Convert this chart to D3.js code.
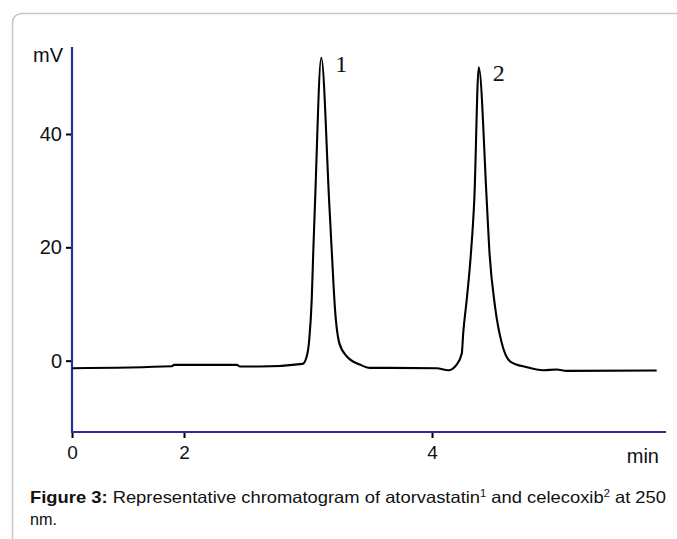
<!DOCTYPE html>
<html>
<head>
<meta charset="utf-8">
<script src="https://cdn.jsdelivr.net/npm/d3@7"></script>
<style>
  body { margin: 0; background: #fff; }
  svg { display: block; font-family: "Liberation Sans", Arial, sans-serif; }
</style>
</head>
<body>
<div id="chart"></div>
<script>
// chromatogram trace (time in min, signal in mV)
const retentionTime = [0, 1.786, 1.821, 2.427, 2.452, 2.613, 2.957, 2.990, 3.010, 3.030, 3.043, 3.056,
  3.107, 3.172, 3.191, 3.218, 3.252, 3.312, 3.419, 3.500, 3.661, 4.038, 4.131, 4.199, 4.240, 4.252,
  4.280, 4.312, 4.341, 4.377, 4.441, 4.462, 4.508, 4.562, 4.629, 4.764, 4.898, 5.006, 5.086, 5.812];
const signal = [-1.34, -0.99, -0.74, -0.74, -1.04, -1.04, -0.56, 0.78, 3.72, 10.77, 19.58, 27.5,
  53.46, 27.5, 19.58, 9.0, 3.14, 0.78, -0.69, -1.27, -1.27, -1.34, -1.69, -0.69, 1.25, 4.95,
  10.77, 18.4, 28.4, 51.77, 28.4, 19.58, 9.59, 3.14, -0.11, -1.16, -1.69, -1.57, -1.80, -1.74];

const peakTimes = [3.107, 4.377];
const peakSignals = [53.46, 51.77];
const peakLabels = ["1", "2"];

const xTicks = [0, 2, 4];
const yTicks = [0, 20, 40];

const width = 677;
const height = 539;
const margin = { top: 47, left: 72, right: 11, bottom: 107 };

const svg = d3.select("#chart")
  .append("svg")
  .attr("width", width)
  .attr("height", height);

// panel border
svg.append("rect")
  .attr("x", 12.5).attr("y", 13.5)
  .attr("width", 720).attr("height", 600)
  .attr("rx", 9)
  .attr("fill", "none")
  .attr("stroke", "#c6c6c6")
  .attr("stroke-width", 1.5);

// the original time axis is not uniform: 0-2 is squeezed
const x = d3.scaleLinear()
  .domain([0, 2, 5.887])
  .range([margin.left, 184, width - margin.right]);

const y = d3.scaleLinear()
  .domain([-12.5, 55.35])
  .range([height - margin.bottom - 0.5, margin.top]);

const axisColor = "#2e2e9a";
const x0 = margin.left;
const yBase = height - margin.bottom;

// x axis
const xAxis = svg.append("g")
  .attr("transform", `translate(0, ${yBase})`)
  .call(d3.axisBottom(x).tickValues(xTicks).tickSize(6).tickPadding(8).tickFormat(d3.format("d")));
xAxis.select(".domain").remove();
xAxis.selectAll(".tick line").attr("stroke", "#000").attr("stroke-width", 2);
xAxis.selectAll("text").style("font-size", "19px").attr("fill", "#111");

// y axis
const yAxis = svg.append("g")
  .attr("transform", `translate(${x0}, 0)`)
  .call(d3.axisLeft(y).tickValues(yTicks).tickSize(6).tickPadding(4).tickFormat(d3.format("d")));
yAxis.select(".domain").remove();
yAxis.selectAll(".tick line").attr("stroke", "#000").attr("stroke-width", 2);
yAxis.selectAll("text").style("font-size", "20px").attr("fill", "#111");

// blue axis lines
svg.append("line")
  .attr("x1", x0).attr("x2", x0)
  .attr("y1", margin.top).attr("y2", yBase + 1)
  .attr("stroke", axisColor).attr("stroke-width", 2.2);
svg.append("line")
  .attr("x1", x0).attr("x2", width - margin.right)
  .attr("y1", yBase).attr("y2", yBase)
  .attr("stroke", axisColor).attr("stroke-width", 2.2);

// unit labels
svg.append("text")
  .attr("x", x0 - 9).attr("y", 62)
  .attr("text-anchor", "end")
  .style("font-size", "20px")
  .attr("fill", "#111")
  .text("mV");

svg.append("text")
  .attr("x", 659).attr("y", 463)
  .attr("text-anchor", "end")
  .style("font-size", "20px")
  .attr("fill", "#111")
  .text("min");

// trace
const trace = retentionTime.map((t, i) => ({ t, v: signal[i] }));
const line = d3.line()
  .x(d => x(d.t))
  .y(d => y(d.v))
  .curve(d3.curveMonotoneX);

svg.append("path")
  .datum(trace)
  .attr("d", line)
  .attr("fill", "none")
  .attr("stroke", "#000")
  .attr("stroke-width", 2.1)
  .attr("stroke-linejoin", "round");

// peak numbers
svg.selectAll(".peak-label")
  .data(peakLabels)
  .enter()
  .append("text")
  .attr("class", "peak-label")
  .attr("x", (d, i) => x(peakTimes[i]) + 20)
  .attr("y", (d, i) => y(peakSignals[i]) + 14)
  .attr("text-anchor", "middle")
  .style("font-family", "'Liberation Serif', 'Times New Roman', serif")
  .style("font-size", "24px")
  .attr("fill", "#111")
  .text(d => d);

// caption
const caption = svg.append("text")
  .attr("x", 30).attr("y", 503)
  .style("font-size", "16.5px")
  .attr("fill", "#111")
  .attr("textLength", 636)
  .attr("lengthAdjust", "spacingAndGlyphs");
caption.append("tspan").style("font-weight", "bold").text("Figure 3:");
caption.append("tspan").text(" Representative chromatogram of atorvastatin");
caption.append("tspan").attr("dy", -6).style("font-size", "10px").text("1");
caption.append("tspan").attr("dy", 6).text(" and celecoxib");
caption.append("tspan").attr("dy", -6).style("font-size", "10px").text("2");
caption.append("tspan").attr("dy", 6).text(" at 250");

svg.append("text")
  .attr("x", 30).attr("y", 525)
  .style("font-size", "16.5px")
  .attr("fill", "#111")
  .attr("textLength", 27)
  .attr("lengthAdjust", "spacingAndGlyphs")
  .text("nm.");
</script>
</body>
</html>
